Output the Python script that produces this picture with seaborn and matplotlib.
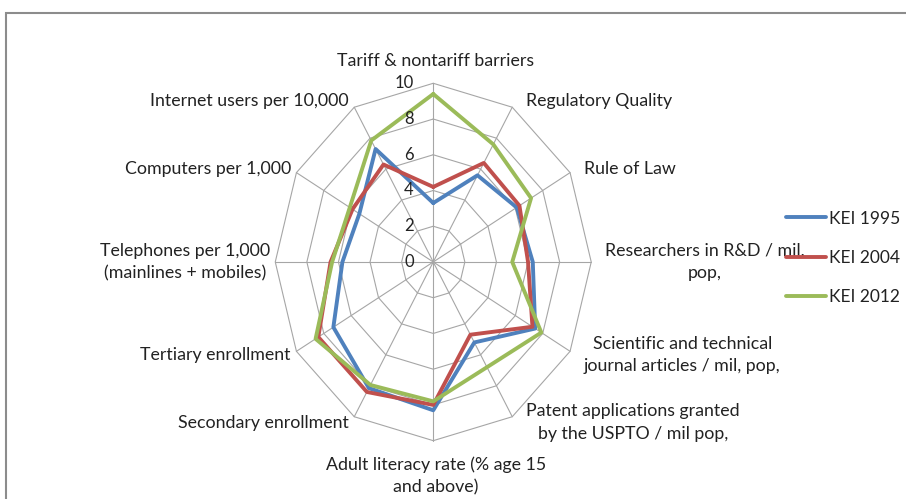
import numpy as np
import pandas as pd
import matplotlib
matplotlib.use("Agg")
import matplotlib.pyplot as plt
from matplotlib.patches import Rectangle
import seaborn as sns

# Knowledge Economy Index pillars (clockwise from the top)
indicators = [
    "Tariff & nontariff barriers",
    "Regulatory Quality",
    "Rule of Law",
    "Researchers in R&D / mil,\npop,",
    "Scientific and technical\njournal articles / mil, pop,",
    "Patent applications granted\nby the USPTO / mil pop,",
    "Adult literacy rate (% age 15\nand above)",
    "Secondary enrollment",
    "Tertiary enrollment",
    "Telephones per 1,000\n(mainlines + mobiles)",
    "Computers per 1,000",
    "Internet users per 10,000",
]
series_names = ["KEI 1995", "KEI 2004", "KEI 2012"]
kei_1995 = [3.3, 5.6, 6.1, 6.3, 7.45, 5.2, 8.3, 8.15, 7.3, 5.75, 5.4, 7.3]
kei_2004 = [4.2, 6.4, 6.3, 6.0, 7.25, 4.7, 8.0, 8.4, 8.4, 6.5, 5.9, 6.3]
kei_2012 = [9.4, 7.6, 7.15, 5.0, 7.9, 6.8, 7.8, 7.95, 8.6, 6.4, 6.1, 7.85]
tick_values = [0, 2, 4, 6, 8, 10]

colors = ["#4F81BD", "#C0504D", "#9BBB59"]
grid_color = "#A6A6A6"
text_color = "#222222"

sns.set_theme(style="white")
plt.rcParams["font.family"] = ["Lato", "DejaVu Sans"]

n = len(indicators)
angles = np.arange(n) * 2 * np.pi / n  # clockwise from 12 o'clock


def to_xy(values):
    v = np.asarray(list(values) + [values[0]], dtype=float)
    a = np.append(angles, angles[0])
    return v * np.sin(a), v * np.cos(a)


rows = []
for name, vals in zip(series_names, [kei_1995, kei_2004, kei_2012]):
    xs, ys = to_xy(vals)
    for i, (x, y) in enumerate(zip(xs, ys)):
        rows.append({"series": name, "order": i, "x": x, "y": y})
df = pd.DataFrame(rows)

fig = plt.figure(figsize=(9.06, 4.99), dpi=100)
ax = fig.add_axes([0.2951, 0.099, 0.3662, 0.752])
lim = 10.5
ax.set_xlim(-lim, lim)
ax.set_ylim(-lim, lim)
ax.set_axis_off()

# spider-web grid: polygon rings and spokes
for level in tick_values[1:]:
    gx, gy = to_xy([level] * n)
    ax.plot(gx, gy, color=grid_color, lw=0.8, zorder=1)
for a in angles:
    ax.plot([0, 10 * np.sin(a)], [0, 10 * np.cos(a)], color=grid_color, lw=0.8, zorder=1)

sns.lineplot(data=df, x="x", y="y", hue="series", hue_order=series_names,
             palette=colors, sort=False, estimator=None, linewidth=2.8,
             ax=ax, zorder=3)

# radial scale labels along the top spoke
for t in tick_values:
    ax.annotate(str(t), (0, t), xytext=(-14, 0), textcoords="offset points",
                ha="right", va="center", fontsize=12, color=text_color,
                annotation_clip=False, zorder=4)

# category labels around the web
for label, a in zip(indicators, angles):
    s, c = np.sin(a), np.cos(a)
    px, py = 10 * s, 10 * c
    if abs(s) < 1e-6:
        ha = "center"
        va = "bottom" if c > 0 else "top"
        off = (2, 10 if c > 0 else -11)
    else:
        ha = "left" if s > 0 else "right"
        va = "center"
        off = (10 if s > 0 else -4, 5 * c)
    ax.annotate(label, (px, py), xytext=off, textcoords="offset points",
                ha=ha, va=va, fontsize=12.8, color=text_color,
                multialignment="center", linespacing=1.5,
                annotation_clip=False)

leg = ax.legend(loc="center left", bbox_to_anchor=(786 / 906, 1 - 258 / 499),
                bbox_transform=fig.transFigure, frameon=False, fontsize=12.5,
                handlelength=2.3, handletextpad=0.2, labelspacing=1.35,
                borderpad=0, borderaxespad=0)
for t in leg.get_texts():
    t.set_color(text_color)

# chart area outline
fig.add_artist(Rectangle((5.5 / 906, -0.5), 2.0, 0.5 + 1 - 12.7 / 499,
                         transform=fig.transFigure, fill=False,
                         edgecolor="#8C8C8C", lw=1.5))

fig.savefig("out.png", dpi=100)
